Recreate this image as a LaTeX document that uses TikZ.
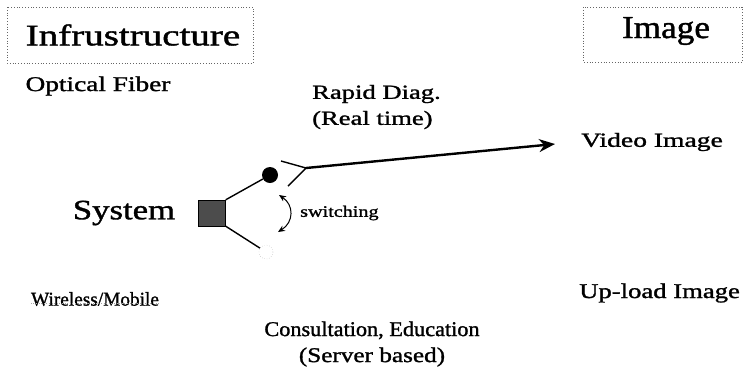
\documentclass[tikz,border=0pt]{standalone}
\usepackage{fontspec}
\setmainfont[FakeBold=1.2]{Liberation Serif}
\usetikzlibrary{arrows.meta}
% widen a line of text horizontally
\newcommand{\widetext}[2]{\scalebox{#1}[1]{#2}}
\begin{document}
\begin{tikzpicture}[x=1pt,y=-1pt,
  label/.style={inner sep=0pt},
  headbox/.style={draw=black!60, dotted, line width=0.8pt},
  wire/.style={line width=1.4pt},
]
\useasboundingbox (0,0) rectangle (746,376);

% heading boxes
\draw[headbox] (7,7) rectangle (253,63);
\node[label, font=\fontsize{30}{34}\selectfont] (infra) at (133,35) {\widetext{1.3}{Infrustructure}};
\draw[headbox] (583,7) rectangle (742,62);
\node[label, font=\fontsize{32}{36}\selectfont] (image) at (666,31) {\widetext{1.1}{Image}};

% left column
\node[label, font=\fontsize{21}{25}\selectfont] (fiber) at (98,86) {\widetext{1.3}{Optical Fiber}};
\node[label, font=\fontsize{28}{32}\selectfont] (system) at (124,213) {\widetext{1.24}{System}};
\node[label, font=\fontsize{19.5}{22}\selectfont] (wireless) at (95,299) {\widetext{0.99}{Wireless/Mobile}};
\draw[black!35, dotted, line width=0.6pt] ([yshift=3pt]wireless.south west) -- ([yshift=3pt]wireless.south east);

% middle labels
\node[label, anchor=west, align=left, font=\fontsize{20}{26}\selectfont] (rapid) at (312,107)
  {\widetext{1.33}{Rapid Diag.}\\\widetext{1.33}{(Real time)}};
\node[label, anchor=west, font=\fontsize{16}{20}\selectfont] (switching) at (300,213) {\widetext{1.26}{switching}};
\node[label, align=center, font=\fontsize{21}{26}\selectfont] (consult) at (372,344)
  {\widetext{1.06}{Consultation, Education}\\\widetext{1.2}{(Server based)}};

% right column
\node[label, anchor=west, font=\fontsize{20}{24}\selectfont] (video) at (581,142) {\widetext{1.38}{Video Image}};
\node[label, anchor=west, font=\fontsize{21}{24}\selectfont] (upload) at (579,293) {\widetext{1.27}{Up-load Image}};

% switch
\node[draw=black, fill=black!70, minimum width=27pt, minimum height=26pt, inner sep=0pt] (sq) at (212,213) {};
\node[circle, fill=black, minimum size=16pt, inner sep=0pt] (on) at (270,175) {};
\node[circle, draw=black!45, dotted, minimum size=14pt, inner sep=0pt] (off) at (266,252) {};
\draw[wire] (sq.north east) -- (on);
\draw[wire] (sq.south east) -- (off);

\coordinate (jn) at (306,168);
\coordinate (armL) at (281,161);
\coordinate (armS) at (288,186);
\coordinate (tip) at (555,144);
\draw[wire] (armL) -- (jn) -- (armS);
\draw[line width=2.4pt, -{Stealth[length=16pt, width=13pt]}] (jn) -- (tip);

\coordinate (sw1) at (279,195);
\coordinate (sw2) at (278,232);
\draw[line width=1pt, {Stealth[length=7pt,width=6pt]}-{Stealth[length=7pt,width=6pt]}] (sw1) .. controls (294,205) and (294,222) .. (sw2);
\end{tikzpicture}
\end{document}
